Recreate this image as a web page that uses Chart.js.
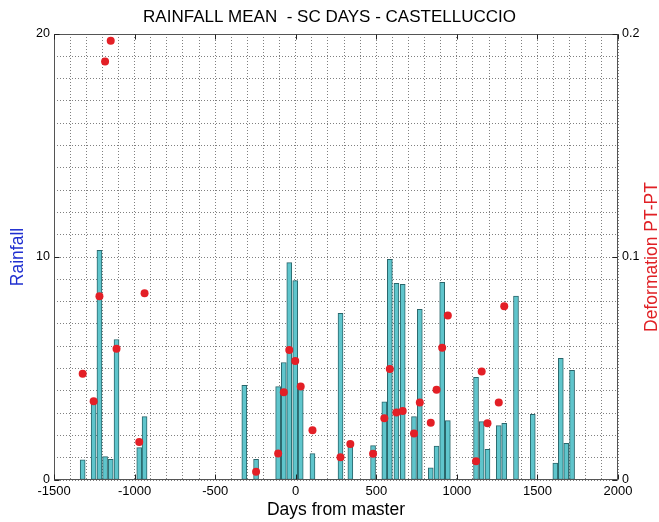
<!DOCTYPE html>
<html>
<head>
<meta charset="utf-8">
<script src="https://cdn.jsdelivr.net/npm/chart.js@4"></script>
<style>
html,body{margin:0;padding:0;background:#fff;}
#wrap{width:659px;height:522px;position:relative;}
</style>
</head>
<body>
<div id="wrap"><canvas id="c"></canvas></div>
<script>
// Days from master (acquisition dates)
const days = [-1322,-1254,-1218,-1183,-1148,-1112,-971,-938,-319,-246,-109,-74,-40,-3,31,104,278,339,480,550,584,625,664,734,770,838,874,909,944,1119,1154,1190,1260,1294,1367,1471,1611,1645,1679,1715];
// Rainfall mean (left axis)
const rainfall = [0.9,3.5,10.3,1.05,0.93,6.3,1.45,2.84,4.25,0.93,4.19,5.27,9.75,8.94,4.11,1.18,7.47,1.49,1.54,3.51,9.9,8.82,8.77,2.84,7.65,0.55,1.52,8.86,2.66,4.6,2.62,1.37,2.44,2.54,8.25,2.94,0.76,5.46,1.64,4.92];
// Deformation PT-PT (right axis)
const deformation = [0.0477,0.0353,0.0824,0.1877,0.197,0.0589,0.017,0.0837,null,0.0037,0.0119,0.0393,0.0583,0.0534,0.0419,0.0223,0.0102,0.0161,0.0118,0.0277,0.0498,0.0303,0.0309,0.0208,0.0347,0.0257,0.0405,0.0593,0.0738,0.0084,0.0487,0.0254,0.0348,0.0779,null,null,null,null,null,null];
const xTickLabels = [-1500,-1000,-500,0,500,1000,1500,2000];
const yTickLabels = [0,10,20];
const y2TickLabels = [0,0.1,0.2];

const FONT = "'Liberation Sans', Arial, Helvetica, sans-serif";

const boxPlugin = {
  id: 'boxPlugin',
  afterDatasetsDraw(chart) {
    const {ctx, chartArea: a, scales} = chart;
    ctx.save();
    ctx.strokeStyle = '#555';
    ctx.lineWidth = 1;
    const L = Math.round(a.left)+0.5, R = Math.round(a.right)-0.5, T = Math.round(a.top)+0.5, B = Math.round(a.bottom)-0.5;
    ctx.strokeRect(L, T, R-L, B-T);
    ctx.strokeStyle = '#222';
    const tl = 5;
    ctx.beginPath();
    xTickLabels.forEach(v => {
      const px = Math.round(scales.x.getPixelForValue(v))+0.5;
      ctx.moveTo(px, B); ctx.lineTo(px, B-tl);
      ctx.moveTo(px, T); ctx.lineTo(px, T+tl);
    });
    yTickLabels.forEach(v => {
      const py = Math.round(scales.y.getPixelForValue(v))+0.5;
      ctx.moveTo(L, py); ctx.lineTo(L+tl, py);
    });
    y2TickLabels.forEach(v => {
      const py = Math.round(scales.y2.getPixelForValue(v))+0.5;
      ctx.moveTo(R, py); ctx.lineTo(R-tl, py);
    });
    ctx.stroke();
    // right axis title
    ctx.fillStyle = '#e02025';
    ctx.font = "17.5px " + FONT;
    ctx.textAlign = 'center';
    ctx.textBaseline = 'middle';
    ctx.translate(652, (a.top + a.bottom)/2);
    ctx.rotate(-Math.PI/2);
    ctx.fillText('Deformation PT-PT', 0, 0);
    ctx.restore();
  }
};

new Chart(document.getElementById('c'), {
  type: 'bar',
  data: {
    datasets: [
      {
        type: 'scatter',
        label: 'Deformation PT-PT',
        data: days.map((d,i) => ({x: d, y: deformation[i]})).filter(p => p.y !== null),
        yAxisID: 'y2',
        xAxisID: 'x',
        backgroundColor: '#e31f26',
        borderColor: '#e31f26',
        pointRadius: 4,
        borderWidth: 0,
        order: 1
      },
      {
        type: 'bar',
        label: 'Rainfall',
        data: days.map((d,i) => ({x: d, y: rainfall[i]})),
        yAxisID: 'y',
        xAxisID: 'x',
        backgroundColor: '#5fc5cc',
        borderColor: '#2a666b',
        borderWidth: 1,
        borderSkipped: false,
        barThickness: 5,
        order: 2
      }
    ]
  },
  options: {
    responsive: true,
    maintainAspectRatio: false,
    animation: false,
    layout: {padding: 0},
    plugins: {
      legend: {display: false},
      tooltip: {enabled: false},
      title: {
        display: true,
        text: 'RAINFALL MEAN  - SC DAYS - CASTELLUCCIO',
        color: '#000',
        font: {family: FONT, size: 17, weight: 'normal'},
        padding: {top: 7, bottom: 6.6}
      }
    },
    scales: {
      x: {
        type: 'linear',
        position: 'bottom',
        min: -1500, max: 2000,
        offset: false,
        afterFit: s => { s.height = 42; },
        grid: {display: true, drawTicks: false, offset: false, color: '#808080', lineWidth: 1},
        border: {display: false, dash: [1,2]},
        ticks: {
          stepSize: 100, maxTicksLimit: 100, autoSkip: false, maxRotation: 0, minRotation: 0,
          padding: 4, color: '#000', font: {family: FONT, size: 13},
          callback: v => (xTickLabels.includes(v) ? String(v) : '')
        },
        title: {display: true, text: 'Days from master', color: '#000', font: {family: FONT, size: 17.5}, padding: {top: 0, bottom: 1}}
      },
      y: {
        type: 'linear',
        position: 'left',
        min: 0, max: 20,
        afterFit: s => { s.width = 54; },
        grid: {display: true, drawTicks: false, color: '#808080', lineWidth: 1},
        border: {display: false, dash: [1,2]},
        ticks: {
          stepSize: 1, maxTicksLimit: 100, autoSkip: false, padding: 4, color: '#000', font: {family: FONT, size: 12.5},
          callback: v => (yTickLabels.includes(v) ? String(v) : '')
        },
        title: {display: true, text: 'Rainfall', color: '#1f2fd0', font: {family: FONT, size: 17.5}, padding: {top: 8, bottom: 0}}
      },
      y2: {
        type: 'linear',
        position: 'right',
        min: 0, max: 0.2,
        afterFit: s => { s.width = 41; },
        grid: {display: false, drawTicks: false},
        border: {display: false},
        ticks: {
          stepSize: 0.1, autoSkip: false, padding: 4, color: '#000', font: {family: FONT, size: 12.5},
          callback: v => String(Math.round(v*10)/10)
        }
      }
    }
  },
  plugins: [boxPlugin]
});
</script>
</body>
</html>
